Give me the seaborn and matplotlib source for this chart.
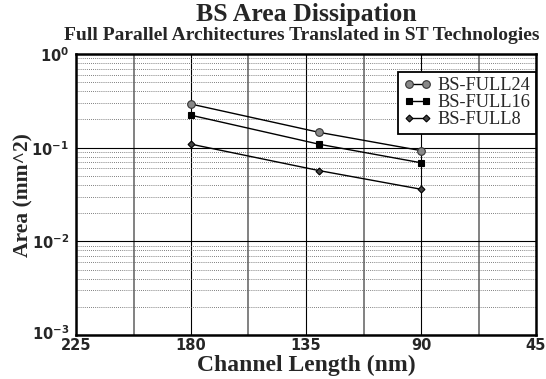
import numpy as np
import pandas as pd
import matplotlib
matplotlib.use("Agg")
import matplotlib.pyplot as plt
import matplotlib.transforms as mtransforms
import seaborn as sns
from matplotlib.ticker import FixedLocator, NullFormatter

# Data
channel_nm = [180, 130, 90]
full24 = [0.292, 0.146, 0.093]
full16 = [0.222, 0.109, 0.069]
full8 = [0.109, 0.057, 0.036]
series_names = ["BS-FULL24", "BS-FULL16", "BS-FULL8"]
x_ticks = [225, 180, 135, 90, 45]
y_ticks = [1e-3, 1e-2, 1e-1, 1e0]
y_tick_labels = [r"$\mathbf{10^{-3}}$", r"$\mathbf{10^{-2}}$", r"$\mathbf{10^{-1}}$", r"$\mathbf{10^{0}}$"]

df = pd.DataFrame({
    "x": channel_nm * 3,
    "y": full24 + full16 + full8,
    "series": sum([[n] * 3 for n in series_names], []),
})

sns.set_style("white")
plt.rcParams["mathtext.fontset"] = "dejavusans"
plt.rcParams["mathtext.default"] = "bf"

fig = plt.figure(figsize=(5.46, 3.79), dpi=100)
ax = fig.add_axes([76 / 546, 1 - 335 / 379, 460 / 546, 281 / 379])

styles = {
    "BS-FULL24": dict(marker="o", markersize=5.5, markerfacecolor="#888888", markeredgecolor="#333333"),
    "BS-FULL16": dict(marker="s", markersize=5, markerfacecolor="black", markeredgecolor="black"),
    "BS-FULL8": dict(marker="D", markersize=3.5, markerfacecolor="#444444", markeredgecolor="black"),
}
for name in series_names:
    sub = df[df["series"] == name]
    sns.lineplot(data=sub, x="x", y="y", ax=ax, color="black", linewidth=1.0,
                 label=name, markeredgewidth=0.8, **styles[name])

ax.set_yscale("log")
ax.set_xlim(225, 45)
ax.set_ylim(1e-3, 1e0)

ax.xaxis.set_major_locator(FixedLocator(x_ticks))
ax.xaxis.set_minor_locator(FixedLocator([202.5, 157.5, 112.5, 67.5]))
ax.set_xticklabels([str(v) for v in x_ticks], fontweight="bold", fontsize=10.5, family="DejaVu Sans")
ax.yaxis.set_major_locator(FixedLocator(y_ticks))
minor_y = [m * 10.0 ** e for e in (-3, -2, -1) for m in range(2, 10)]
ax.yaxis.set_minor_locator(FixedLocator(minor_y))
ax.yaxis.set_minor_formatter(NullFormatter())
ax.set_yticklabels(y_tick_labels, fontsize=10.5)
ax.tick_params(axis="x", which="both", length=0, pad=2)
ax.tick_params(axis="y", which="both", length=0, pad=5)
# nudge the lowest y label slightly up so it clears the first x label
lab0 = ax.get_yticklabels()[0]
lab0.set_transform(lab0.get_transform() + mtransforms.ScaledTranslation(0, 3 / 100, fig.dpi_scale_trans))

ax.grid(which="major", axis="x", color="black", linewidth=0.8, linestyle="-")
ax.grid(which="minor", axis="x", color="#777777", linewidth=1.3, linestyle="-")
ax.grid(which="major", axis="y", color="black", linewidth=0.8, linestyle="-")
ax.grid(which="minor", axis="y", color="#555555", linewidth=0.6, linestyle=(0, (1, 1.5)))
ax.set_axisbelow(True)

for sp in ax.spines.values():
    sp.set_visible(True)
    sp.set_color("black")
    sp.set_linewidth(1.8)

ax.set_xlabel("")
ax.set_ylabel("")
fig.text(306 / 546, 1 - 365 / 379, "Channel Length (nm)", ha="center", va="center",
         family="Liberation Serif", fontweight="bold", fontsize=17)
fig.text(23 / 546, 1 - 195 / 379, "Area (mm^2)", ha="center", va="center", rotation=90,
         family="Liberation Serif", fontweight="bold", fontsize=15.5)

fig.text(306 / 546, 1 - 14 / 379, "BS Area Dissipation", ha="center", va="center",
         family="Liberation Serif", fontweight="bold", fontsize=18.5)
fig.text(64 / 546, 1 - 35 / 379, "Full Parallel Architectures Translated in ST Technologies",
         ha="left", va="center", family="Liberation Serif", fontweight="bold", fontsize=14.0)

leg = ax.legend(loc="upper right", bbox_to_anchor=(1.0, 0.936), numpoints=2,
                prop={"family": "Liberation Serif", "size": 13.2}, frameon=True, fancybox=False,
                edgecolor="black", framealpha=1, borderpad=0.3, labelspacing=0.0,
                handlelength=1.5, handletextpad=0.35, borderaxespad=0.0)
leg.get_frame().set_linewidth(1.3)

fig.savefig("out.png", dpi=100)
